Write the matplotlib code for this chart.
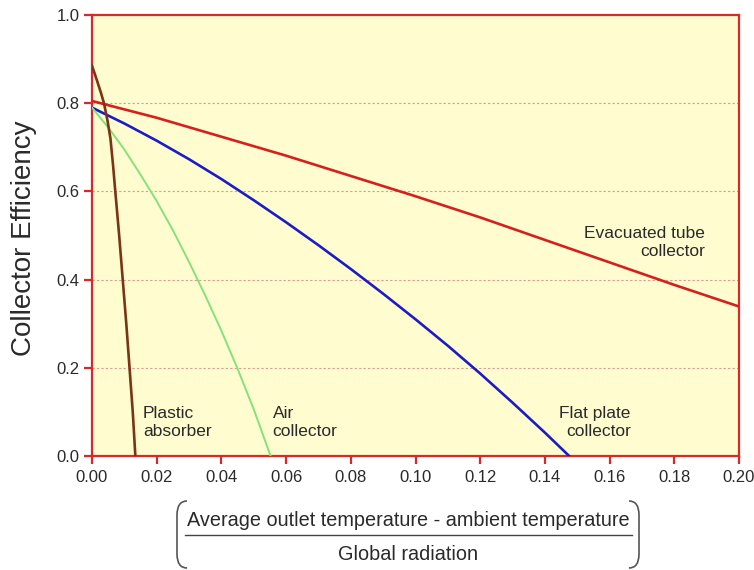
import matplotlib
matplotlib.use("Agg")
import matplotlib.pyplot as plt
from matplotlib.path import Path
from matplotlib.patches import PathPatch

plt.rcParams['font.family'] = ['Liberation Sans', 'DejaVu Sans']

# efficiency curves
evac_x = [0, 0.02, 0.04, 0.06, 0.08, 0.10, 0.12, 0.14, 0.16, 0.18, 0.20]
evac_y = [0.805, 0.767, 0.724, 0.681, 0.635, 0.589, 0.541, 0.490, 0.439, 0.388, 0.339]

flat_x = [0, 0.01, 0.02, 0.03, 0.04, 0.05, 0.06, 0.07, 0.08, 0.09,
          0.10, 0.11, 0.12, 0.13, 0.14, 0.1475]
flat_y = [0.79, 0.754, 0.715, 0.673, 0.628, 0.580, 0.530, 0.478, 0.424, 0.368,
          0.310, 0.250, 0.187, 0.121, 0.053, 0.0]

air_x = [0, 0.005, 0.01, 0.015, 0.02, 0.025, 0.03, 0.035, 0.04, 0.045, 0.05, 0.0552]
air_y = [0.79, 0.745, 0.695, 0.638, 0.578, 0.512, 0.44, 0.364, 0.284, 0.198, 0.106, 0.0]

plastic_x = [0.0, 0.0007, 0.0016, 0.0027, 0.0037, 0.0048, 0.0057, 0.0065,
             0.0072, 0.0084, 0.0095, 0.0106, 0.0116, 0.0126, 0.0134]
plastic_y = [0.885, 0.87, 0.85, 0.825, 0.80, 0.76, 0.72, 0.66,
             0.60, 0.50, 0.40, 0.30, 0.20, 0.10, 0.0]

x_ticks = [0.00, 0.02, 0.04, 0.06, 0.08, 0.10, 0.12, 0.14, 0.16, 0.18, 0.20]
y_ticks = [0.0, 0.2, 0.4, 0.6, 0.8, 1.0]

spine_red = '#d8282a'
txt = '#2a2a2a'

fig = plt.figure(figsize=(7.54, 5.70), dpi=100)
ax = fig.add_axes([92/754, 114/570, 647/754, 441/570])
ax.set_facecolor('#fffdcf')

for yy in [0.2, 0.4, 0.6, 0.8]:
    ax.axhline(yy, color='#d99a90', lw=0.8, ls=(0, (2, 2)), zorder=1)

ax.plot(evac_x, evac_y, color='#d42020', lw=1.9, zorder=3)
ax.plot(flat_x, flat_y, color='#1c1cc4', lw=1.9, zorder=3)
ax.plot(air_x, air_y, color='#86e07c', lw=1.4, zorder=3)
ax.plot(plastic_x, plastic_y, color='#7a3416', lw=1.9, zorder=4)

ax.set_xlim(0, 0.20)
ax.set_ylim(0, 1.0)
ax.set_xticks(x_ticks)
ax.set_xticklabels(['%.2f' % v for v in x_ticks])
ax.set_yticks(y_ticks)
ax.set_yticklabels(['%.1f' % v for v in y_ticks])

for s in ax.spines.values():
    s.set_color(spine_red)
    s.set_linewidth(1.6)
ax.tick_params(colors=spine_red, labelcolor=txt, length=6, width=1.6,
               labelsize=12)
ax.tick_params(axis='x', pad=4)
ax.tick_params(axis='y', pad=3)

ax.text(0.0158, 0.077, 'Plastic\nabsorber', fontsize=12.5, color=txt,
        ha='left', va='center', linespacing=1.25)
ax.text(0.0558, 0.077, 'Air\ncollector', fontsize=12.5, color=txt,
        ha='left', va='center', linespacing=1.25)
ax.text(0.1665, 0.075, 'Flat plate\ncollector', fontsize=12.5, color=txt,
        ha='right', va='center', linespacing=1.25)
ax.text(0.1895, 0.485, 'Evacuated tube\ncollector', fontsize=12.5, color=txt,
        ha='right', va='center', linespacing=1.25)

fig.text(24/754, 1 - 238/570, 'Collector Efficiency', rotation=90,
         fontsize=20, color=txt, ha='center', va='center')

# fraction-style x label
fig.text(408/754, 1 - 520/570, 'Average outlet temperature - ambient temperature',
         fontsize=14.3, color=txt, ha='center', va='center')
fig.text(408/754, 1 - 554/570, 'Global radiation',
         fontsize=14.3, color=txt, ha='center', va='center')
fig.add_artist(plt.Line2D([185/754, 632/754], [1 - 535/570, 1 - 535/570],
                          transform=fig.transFigure, color='#444444', lw=1.0))

def bracket(x_out, x_in, y_top, y_bot):
    verts = [(x_in, y_top), (x_out, y_top), (x_out, y_top + 14),
             (x_out, y_bot - 14), (x_out, y_bot), (x_in, y_bot)]
    codes = [Path.MOVETO, Path.CURVE3, Path.CURVE3,
             Path.LINETO, Path.CURVE3, Path.CURVE3]
    verts = [(vx / 754, 1 - vy / 570) for vx, vy in verts]
    fig.add_artist(PathPatch(Path(verts, codes), transform=fig.transFigure,
                             fill=False, edgecolor='#555555', lw=1.2))

bracket(177, 187, 501, 568)
bracket(639, 629, 501, 568)

fig.savefig('out.png', dpi=100)
